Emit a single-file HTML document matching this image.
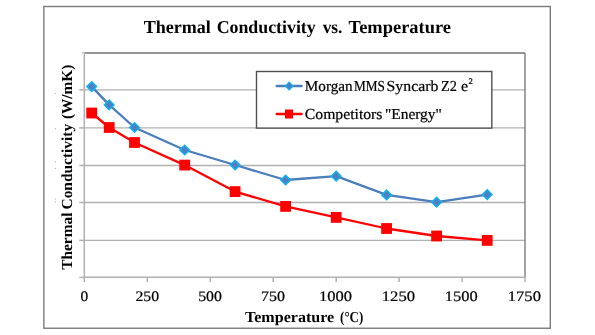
<!DOCTYPE html>
<html><head><meta charset="utf-8"><style>
html,body{margin:0;padding:0;background:#fff;width:595px;height:335px;overflow:hidden}
svg{display:block;will-change:transform}
text{font-family:"Liberation Serif",serif;fill:#000;text-rendering:geometricPrecision}
.g{stroke:#b0b0b0;stroke-width:1.4}
.ax{stroke:#b0b0b0;stroke-width:1.5}
.dm{fill:#4f7fbe;stroke:#0fb0f0;stroke-width:1.5;stroke-linejoin:miter}
.sq{fill:#ff0000}
.rg{stroke:#000;stroke-width:0.22px}
</style></head><body>
<svg width="595" height="335" viewBox="0 0 595 335">
<rect x="43.85" y="6.5" width="506.45" height="321.75" fill="#fff" stroke="#7a7a7a" stroke-width="1.4"/>
<line x1="84.3" y1="89.90" x2="525.0" y2="89.90" class="g"/><line x1="84.3" y1="127.90" x2="525.0" y2="127.90" class="g"/><line x1="84.3" y1="165.45" x2="525.0" y2="165.45" class="g"/><line x1="84.3" y1="202.50" x2="525.0" y2="202.50" class="g"/><line x1="84.3" y1="240.40" x2="525.0" y2="240.40" class="g"/>
<line x1="84.3" y1="53.0" x2="525.0" y2="53.0" stroke="#727272" stroke-width="1.3"/>
<line x1="525.0" y1="53.0" x2="525.0" y2="277.4" stroke="#727272" stroke-width="1.3"/>
<line x1="84.3" y1="53.0" x2="84.3" y2="277.4" class="ax"/>
<line x1="84.3" y1="277.3" x2="525.0" y2="277.3" class="ax"/>
<line x1="79.3" y1="89.90" x2="84.3" y2="89.90" class="ax"/><line x1="79.3" y1="127.90" x2="84.3" y2="127.90" class="ax"/><line x1="79.3" y1="165.45" x2="84.3" y2="165.45" class="ax"/><line x1="79.3" y1="202.50" x2="84.3" y2="202.50" class="ax"/><line x1="79.3" y1="240.40" x2="84.3" y2="240.40" class="ax"/><line x1="79.3" y1="277.40" x2="84.3" y2="277.40" class="ax"/><line x1="81.8" y1="53.0" x2="84.3" y2="53.0" class="ax" style="stroke:#c8c8c8"/><line x1="84.30" y1="277.4" x2="84.30" y2="282" class="ax"/><line x1="147.26" y1="277.4" x2="147.26" y2="282" class="ax"/><line x1="210.21" y1="277.4" x2="210.21" y2="282" class="ax"/><line x1="273.17" y1="277.4" x2="273.17" y2="282" class="ax"/><line x1="336.13" y1="277.4" x2="336.13" y2="282" class="ax"/><line x1="399.09" y1="277.4" x2="399.09" y2="282" class="ax"/><line x1="462.04" y1="277.4" x2="462.04" y2="282" class="ax"/><line x1="525.00" y1="277.4" x2="525.00" y2="282" class="ax"/>
<polyline points="91.7,86.6 109.2,104.9 134.5,127.5 184.7,150.0 235.1,165.0 285.6,180.0 336.2,176.2 386.6,194.9 436.6,202.2 487.2,194.6" fill="none" stroke="#4a7ebb" stroke-width="2.3" stroke-linejoin="round"/>
<polyline points="91.7,113.0 109.2,127.5 134.5,142.5 184.7,165.1 235.1,191.6 285.6,206.4 336.2,217.4 386.6,228.5 436.6,236.0 487.2,240.4" fill="none" stroke="#ff0000" stroke-width="2.3" stroke-linejoin="round"/>
<polygon points="91.7,81.80 96.50,86.6 91.7,91.40 86.90,86.6" class="dm"/><polygon points="109.2,100.10 114.00,104.9 109.2,109.70 104.40,104.9" class="dm"/><polygon points="134.5,122.70 139.30,127.5 134.5,132.30 129.70,127.5" class="dm"/><polygon points="184.7,145.20 189.50,150.0 184.7,154.80 179.90,150.0" class="dm"/><polygon points="235.1,160.20 239.90,165.0 235.1,169.80 230.30,165.0" class="dm"/><polygon points="285.6,175.20 290.40,180.0 285.6,184.80 280.80,180.0" class="dm"/><polygon points="336.2,171.40 341.00,176.2 336.2,181.00 331.40,176.2" class="dm"/><polygon points="386.6,190.10 391.40,194.9 386.6,199.70 381.80,194.9" class="dm"/><polygon points="436.6,197.40 441.40,202.2 436.6,207.00 431.80,202.2" class="dm"/><polygon points="487.2,189.80 492.00,194.6 487.2,199.40 482.40,194.6" class="dm"/><rect x="86.30" y="107.60" width="10.80" height="10.80" class="sq"/><rect x="103.80" y="122.10" width="10.80" height="10.80" class="sq"/><rect x="129.10" y="137.10" width="10.80" height="10.80" class="sq"/><rect x="179.30" y="159.70" width="10.80" height="10.80" class="sq"/><rect x="229.70" y="186.20" width="10.80" height="10.80" class="sq"/><rect x="280.20" y="201.00" width="10.80" height="10.80" class="sq"/><rect x="330.80" y="212.00" width="10.80" height="10.80" class="sq"/><rect x="381.20" y="223.10" width="10.80" height="10.80" class="sq"/><rect x="431.20" y="230.60" width="10.80" height="10.80" class="sq"/><rect x="481.80" y="235.00" width="10.80" height="10.80" class="sq"/>
<rect x="256.5" y="71.5" width="235.3" height="56.6" fill="#fff" stroke="#505050" stroke-width="1.4"/>
<line x1="276.6" y1="86.0" x2="301.7" y2="86.0" stroke="#4a7ebb" stroke-width="2.3" stroke-linecap="round"/>
<polygon points="289.2,82.15 293.05,86.0 289.2,89.85 285.35,86.0" class="dm" style="stroke-width:1.2"/>
<line x1="276.6" y1="114.0" x2="301.7" y2="114.0" stroke="#ff0000" stroke-width="2.3" stroke-linecap="round"/>
<rect x="285" y="109.5" width="8" height="9" class="sq"/>
<text x="468.4" y="84.1" font-size="8.6px" class="rg">2</text>
<g fill="#aaa"><rect x="55" y="92.9" width="1" height="1"/><rect x="55" y="128.2" width="1" height="1"/><rect x="55" y="161.3" width="1" height="1"/><rect x="55" y="167.9" width="1" height="1"/><rect x="55" y="198.5" width="1" height="1"/><rect x="55" y="201.5" width="1" height="1"/></g>
<text x="143.64" y="32.70" font-size="18.2px" font-weight="bold" textLength="67.23" lengthAdjust="spacingAndGlyphs">Thermal</text>
<text x="216.63" y="32.70" font-size="18.2px" font-weight="bold" textLength="99.09" lengthAdjust="spacingAndGlyphs">Conductivity</text>
<text x="322.65" y="32.70" font-size="18.2px" font-weight="bold" textLength="19.82" lengthAdjust="spacingAndGlyphs">vs.</text>
<text x="348.60" y="32.70" font-size="18.2px" font-weight="bold" textLength="102.36" lengthAdjust="spacingAndGlyphs">Temperature</text>
<text x="304.83" y="90.60" font-size="15.2px" class="rg" textLength="47.79" lengthAdjust="spacingAndGlyphs">Morgan</text>
<text x="353.88" y="90.60" font-size="15.2px" class="rg" textLength="30.93" lengthAdjust="spacingAndGlyphs">MMS</text>
<text x="386.57" y="90.60" font-size="15.2px" class="rg" textLength="51.78" lengthAdjust="spacingAndGlyphs">Syncarb</text>
<text x="440.95" y="90.60" font-size="15.2px" class="rg" textLength="15.88" lengthAdjust="spacingAndGlyphs">Z2</text>
<text x="461.08" y="90.60" font-size="15.2px" class="rg" textLength="7.07" lengthAdjust="spacingAndGlyphs">e</text>
<text x="304.80" y="118.60" font-size="15.2px" class="rg" textLength="77.67" lengthAdjust="spacingAndGlyphs">Competitors</text>
<text x="384.97" y="118.60" font-size="15.2px" class="rg" textLength="56.86" lengthAdjust="spacingAndGlyphs">"Energy"</text>
<text x="245.00" y="321.90" font-size="15.3px" font-weight="bold" textLength="89.19" lengthAdjust="spacingAndGlyphs">Temperature</text>
<text x="340.10" y="321.90" font-size="15.3px" font-weight="bold" textLength="23.15" lengthAdjust="spacingAndGlyphs">(°C)</text>
<text transform="translate(71.90,269.79) rotate(-90)" font-size="15.3px" font-weight="bold" textLength="57.27" lengthAdjust="spacingAndGlyphs">Thermal</text>
<text transform="translate(71.90,209.50) rotate(-90)" font-size="15.3px" font-weight="bold" textLength="85.65" lengthAdjust="spacingAndGlyphs">Conductivity</text>
<text transform="translate(71.90,119.08) rotate(-90)" font-size="15.3px" font-weight="bold" textLength="54.49" lengthAdjust="spacingAndGlyphs">(W/mK)</text>
<text x="80.49" y="300.90" font-size="14.5px" class="rg" textLength="7.69" lengthAdjust="spacingAndGlyphs">0</text>
<text x="135.41" y="300.90" font-size="14.5px" class="rg" textLength="23.59" lengthAdjust="spacingAndGlyphs">250</text>
<text x="198.16" y="300.90" font-size="14.5px" class="rg" textLength="23.74" lengthAdjust="spacingAndGlyphs">500</text>
<text x="261.01" y="300.90" font-size="14.5px" class="rg" textLength="23.88" lengthAdjust="spacingAndGlyphs">750</text>
<text x="318.95" y="300.90" font-size="14.5px" class="rg" textLength="32.99" lengthAdjust="spacingAndGlyphs">1000</text>
<text x="381.76" y="300.90" font-size="14.5px" class="rg" textLength="33.29" lengthAdjust="spacingAndGlyphs">1250</text>
<text x="444.87" y="300.90" font-size="14.5px" class="rg" textLength="32.89" lengthAdjust="spacingAndGlyphs">1500</text>
<text x="507.83" y="300.90" font-size="14.5px" class="rg" textLength="33.08" lengthAdjust="spacingAndGlyphs">1750</text>
</svg>
</body></html>
